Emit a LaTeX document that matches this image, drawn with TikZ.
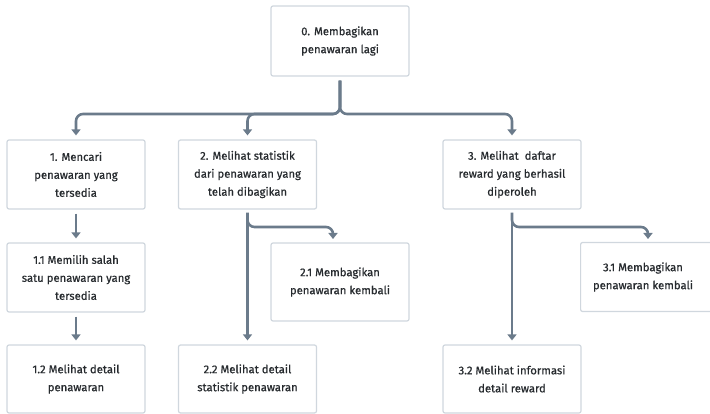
\documentclass[tikz,border=0pt]{standalone}
\usepackage{fontspec}
\setmainfont{Fira Sans}[FakeBold=0.6]
\usetikzlibrary{arrows.meta}
\definecolor{linegrey}{HTML}{6B7B8B}
\definecolor{boxedge}{HTML}{D0D7DE}
\definecolor{inkgrey}{HTML}{262A2E}
\tikzset{
  box/.style={draw=boxedge, line width=1.2pt, rounded corners=2pt, fill=white,
    minimum width=138pt, minimum height=69pt, inner sep=2pt,
    align=center, text=inkgrey, font=\fontsize{11.3}{18}\selectfont},
  txt/.style={align=center, text=inkgrey, font=\fontsize{11.3}{18}\selectfont, inner sep=0pt},
  conn/.style={draw=linegrey, line width=2.6pt, rounded corners=7pt,
    -{Triangle[width=9pt,length=6pt]}},
}
\begin{document}
\begin{tikzpicture}[x=1pt,y=-1pt]
\useasboundingbox (0,0) rectangle (710,414);
\clip (0,0) rectangle (710,414);

% level 0
\node[box, minimum height=70pt] (b0) at (340,41) {0. Membagikan\\penawaran lagi};

% level 1
\node[box] (b1) at (76,174.5) {1. Mencari\\penawaran yang\\tersedia};
\node[box] (b2) at (247.5,174.5) {2. Melihat statistik\\dari penawaran yang\\telah dibagikan};
\node[box] (b3) at (512,174.5) {3. Melihat\ \ daftar\\reward yang berhasil\\diperoleh};

% level 2
\node[box] (b11) at (76,277.5) {1.1 Memilih salah\\satu penawaran yang\\tersedia};
\node[box, minimum height=78pt] (b21) at (340,282) {2.1 Membagikan\\penawaran kembali};
\node[box, minimum width=140pt, anchor=west] (b31) at (580,277) {};
\node[txt] (b31t) at (643,277) {3.1 Membagikan\\penawaran kembali};

% level 3
\node[box, minimum height=68pt] (b12) at (76,379) {1.2 Melihat detail\\penawaran};
\node[box, minimum height=68pt] (b22) at (247.5,379) {2.2 Melihat detail\\statistik penawaran};
\node[box, minimum height=68pt] (b32) at (512,379) {3.2 Melihat informasi\\detail reward};

% junction points of the branching connectors
\coordinate (hub) at (340,114);
\coordinate (j2) at (247.5,227);
\coordinate (j3) at (512,227);
\coordinate (t21) at (333,243);
\coordinate (t31) at (648,243);

% top-level split
\draw[conn, shorten <=4pt, shorten >=4pt] (b0.south) -- (hub) -| (b1.north);
\draw[conn, shorten <=4pt, shorten >=4pt] (b0.south) -- (hub) -| (b2.north);
\draw[conn, shorten <=4pt, shorten >=4pt] (b0.south) -- (hub) -| (b3.north);

% branch 1
\draw[conn, shorten <=4pt, shorten >=4pt] (b1.south) -- (b11.north);
\draw[conn, shorten <=4pt, shorten >=4pt] (b11.south) -- (b12.north);

% branch 2
\draw[conn, shorten <=3pt, shorten >=4pt] (b2.south) -- (b22.north);
\draw[conn, shorten <=3pt, shorten >=4pt] (b2.south) -- (j2) -| (t21);

% branch 3
\draw[conn, shorten <=3pt, shorten >=4pt] (b3.south) -- (b32.north);
\draw[conn, shorten <=3pt, shorten >=4pt] (b3.south) -- (j3) -| (t31);
\end{tikzpicture}
\end{document}
